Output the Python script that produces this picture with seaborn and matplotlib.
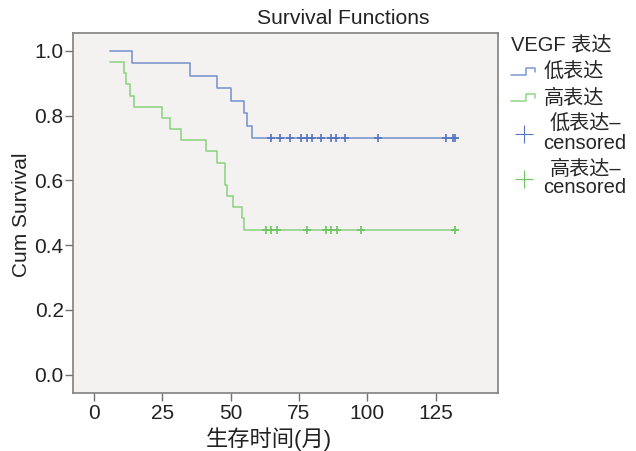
import numpy as np
import pandas as pd
import matplotlib
matplotlib.use("Agg")
import matplotlib.pyplot as plt
import seaborn as sns
from matplotlib.lines import Line2D
from matplotlib.legend_handler import HandlerBase

# Données (temps en mois, survie cumulée)
low_times = [6, 14, 35, 45, 50, 55, 56, 58, 133]
low_surv = [1.0, 0.962, 0.923, 0.885, 0.846, 0.808, 0.769, 0.731, 0.731]
high_times = [6, 11, 11.7, 13.2, 14.6, 24.9, 27.9, 31.8, 41, 44.9, 47.9, 48.7,
              50.9, 54.2, 55, 133]
high_surv = [0.966, 0.931, 0.897, 0.862, 0.828, 0.793, 0.759, 0.724, 0.690,
             0.655, 0.586, 0.552, 0.517, 0.483, 0.448, 0.448]
low_censored = [64.9, 67.9, 71.7, 75.9, 77.8, 79.9, 82.9, 86.8, 88.7, 91.8,
                104.0, 128.8, 131.5, 132.2]
high_censored = [62.8, 64.9, 67.0, 77.9, 85.0, 86.9, 89.0, 97.9, 132.1]

groups = ["低表达", "高表达"]
x_ticks = [0, 25, 50, 75, 100, 125]
y_ticks = [0.0, 0.2, 0.4, 0.6, 0.8, 1.0]

LINE_COLORS = {"低表达": "#7f97cf", "高表达": "#92d488"}
MARK_COLORS = {"低表达": "#5573bf", "高表达": "#6cc35f"}


class StepHandler(HandlerBase):
    """Petite icône en escalier pour la légende."""
    def create_artists(self, legend, orig_handle, xdescent, ydescent,
                       width, height, fontsize, trans):
        xs = [0, width * 0.55, width * 0.55, width * 0.9, width * 0.9]
        ys = [height * 0.2, height * 0.2, height * 0.7, height * 0.7, height * 0.45]
        line = Line2D(xs, ys, color=orig_handle.get_color(), lw=1.1)
        line.set_transform(trans)
        return [line]


def main():
    sns.set_style("white")
    plt.rcParams["font.family"] = ["Liberation Sans", "Noto Sans CJK SC", "DejaVu Sans"]

    curves = pd.concat([
        pd.DataFrame({"time": low_times, "surv": low_surv, "group": "低表达"}),
        pd.DataFrame({"time": high_times, "surv": high_surv, "group": "高表达"}),
    ])
    cens = pd.concat([
        pd.DataFrame({"time": low_censored, "surv": low_surv[-1], "group": "低表达"}),
        pd.DataFrame({"time": high_censored, "surv": high_surv[-1], "group": "高表达"}),
    ])

    fig = plt.figure(figsize=(6.36, 4.51), dpi=100)
    ax = fig.add_axes([0.1143, 0.1293, 0.668, 0.797])
    ax.set_facecolor("#f3f2f1")

    for g in groups:
        sub = curves[curves["group"] == g]
        sns.lineplot(data=sub, x="time", y="surv", ax=ax, color=LINE_COLORS[g],
                     drawstyle="steps-post", lw=1.2, estimator=None, sort=False)
        csub = cens[cens["group"] == g]
        sns.scatterplot(data=csub, x="time", y="surv", ax=ax, marker="+",
                        color=MARK_COLORS[g], s=40, linewidth=1.2, zorder=3)

    ax.set_xlim(-7.8, 147.7)
    ax.set_ylim(-0.0556, 1.0547)
    ax.set_xticks(x_ticks)
    ax.set_yticks(y_ticks)
    ax.set_yticklabels([f"{v:.1f}" for v in y_ticks])
    ax.tick_params(axis="both", bottom=True, left=True, direction="out",
                   length=5.5, width=1, color="#707070", labelsize=15,
                   labelcolor="#222222")
    ax.tick_params(axis="y", pad=1)
    ax.tick_params(axis="x", pad=3)
    for sp in ax.spines.values():
        sp.set_color("#808080")
        sp.set_linewidth(1.2)

    ax.set_xlabel("生存时间(月)", fontsize=16, color="#222222")
    ax.xaxis.set_label_coords(0.462, -0.095)
    ax.set_ylabel("Cum Survival", fontsize=15, color="#222222")
    ax.yaxis.set_label_coords(-0.0985, 0.494)
    ax.set_title("Survival Functions", fontsize=15.2, color="#222222",
                 x=0.636, pad=7)

    handles = [
        Line2D([], [], color=LINE_COLORS["低表达"]),
        Line2D([], [], color=LINE_COLORS["高表达"]),
        Line2D([], [], color=MARK_COLORS["低表达"], marker="+", ls="",
               markersize=13, markeredgewidth=0.8),
        Line2D([], [], color=MARK_COLORS["高表达"], marker="+", ls="",
               markersize=13, markeredgewidth=0.8),
    ]
    labels = ["低表达", "高表达", "低表达–\ncensored", "高表达–\ncensored"]
    leg = fig.legend(handles, labels, title="VEGF 表达", loc="upper left",
                     bbox_to_anchor=(0.785, 0.945), frameon=False, fontsize=14.5,
                     title_fontsize=14.5, handlelength=1.3, handletextpad=0.3,
                     labelspacing=0.35, alignment="left", borderaxespad=0.2,
                     handler_map={handles[0]: StepHandler(), handles[1]: StepHandler()})
    for t in leg.get_texts():
        t.set_linespacing(0.95)
    for t in leg.get_texts()[2:]:
        t.set_multialignment("center")

    fig.savefig("out.png", dpi=100, facecolor="white")
    plt.close(fig)


if __name__ == "__main__":
    main()
